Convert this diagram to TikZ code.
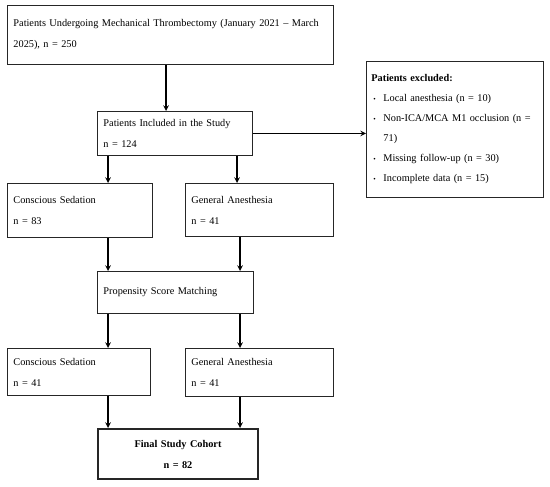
\documentclass[tikz,border=0pt]{standalone}
\usepackage{fontspec}
\setmainfont{Liberation Serif}
\usetikzlibrary{shadows}

\newcommand{\vineta}{\hspace*{2pt}\makebox[10pt][l]{\scriptsize\textbullet}}

\begin{document}
\begin{tikzpicture}[x=1pt,y=-1pt,
    caja/.style={draw=black!85, fill=white, line width=0.9pt, anchor=north west, align=left,
      inner xsep=6pt, inner ysep=0pt, font=\fontsize{10.3}{21}\selectfont},
    flecha/.style={->, >=stealth, line width=1.5pt}]
  \useasboundingbox (0,0) rectangle (550,487);

  % Cajas
  \node[caja, text width=314pt, minimum height=59pt] (total) at (7,5)
    {Patients Undergoing Mechanical Thrombectomy (January 2021 -- March\\2025), n = 250};
  \node[caja, text width=143pt, minimum height=44pt] (incluidos) at (97,111)
    {Patients Included in the Study\\n = 124};
  \node[caja, inner xsep=5pt, text width=167pt, minimum height=136pt,
        font=\fontsize{10.3}{20}\selectfont] (excluidos) at (366,61)
    {\textbf{Patients excluded:}\\
     \vineta Local anesthesia (n = 10)\\
     \vineta Non-ICA/MCA M1 occlusion (n =\\
     \hspace*{12pt}71)\\
     \vineta Missing follow-up (n = 30)\\
     \vineta Incomplete data (n = 15)};
  \node[caja, text width=133pt, minimum height=54pt] (sedacion) at (7,183)
    {Conscious Sedation\\n = 83};
  \node[caja, text width=136pt, minimum height=53pt] (anestesia) at (185,183)
    {General Anesthesia\\n = 41};
  \node[caja, text width=144pt, minimum height=42pt] (psm) at (97,271)
    {Propensity Score Matching};
  \node[caja, text width=131pt, minimum height=47pt] (sedacionb) at (7,348)
    {Conscious Sedation\\n = 41};
  \node[caja, text width=136pt, minimum height=48pt] (anestesiab) at (185,348)
    {General Anesthesia\\n = 41};
  \node[caja, line width=2pt, align=center, text width=148pt, minimum height=50pt,
        font=\fontsize{10.3}{21}\selectfont\bfseries,
        drop shadow={opacity=0.4, shadow xshift=1pt, shadow yshift=-1pt}] (final) at (97,428)
    {Final Study Cohort\\n = 82};

  % Flechas
  \draw[flecha] ([xshift=159pt]total.south west) -- ([xshift=69pt]incluidos.north west);
  \draw[flecha] (incluidos.east) -- (incluidos.east -| excluidos.west);
  \draw[flecha] ([xshift=11pt]incluidos.south west) -- ([xshift=101pt]sedacion.north west);
  \draw[flecha] ([xshift=140pt]incluidos.south west) -- ([xshift=52pt]anestesia.north west);
  \draw[flecha] ([xshift=101pt]sedacion.south west) -- ([xshift=11pt]psm.north west);
  \draw[flecha] ([xshift=55pt]anestesia.south west) -- ([xshift=143pt]psm.north west);
  \draw[flecha] ([xshift=11pt]psm.south west) -- ([xshift=101pt]sedacionb.north west);
  \draw[flecha] ([xshift=143pt]psm.south west) -- ([xshift=55pt]anestesiab.north west);
  \draw[flecha] ([xshift=101pt]sedacionb.south west) -- ([xshift=11pt]final.north west);
  \draw[flecha] ([xshift=55pt]anestesiab.south west) -- ([xshift=143pt]final.north west);
\end{tikzpicture}
\end{document}
